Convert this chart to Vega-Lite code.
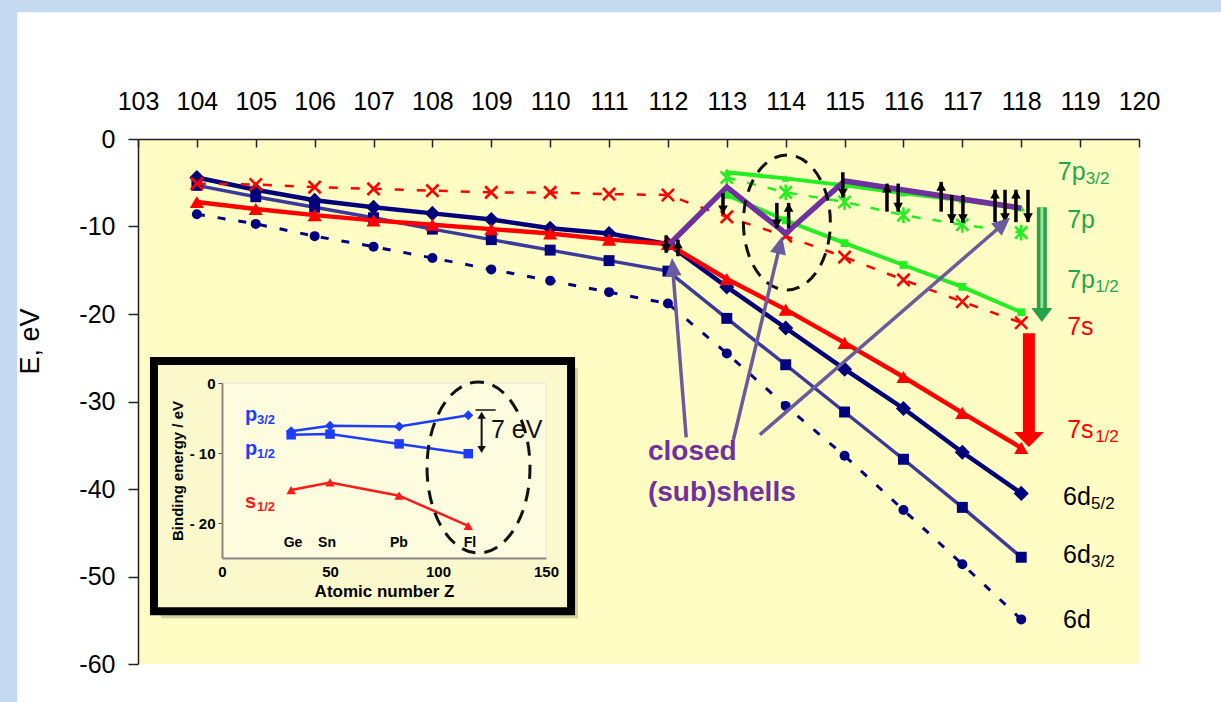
{
  "$schema": "https://vega.github.io/schema/vega-lite/v6.json",
  "width": 1001,
  "height": 525,
  "autosize": {"type": "none"},
  "padding": {"left": 138, "top": 139, "right": 82, "bottom": 38},
  "background": "#c5d9f1",
  "config": {"view": {"stroke": null, "fill": null}, "font": "Liberation Sans", "axis": {"grid": false}},
  "datasets": {
    "main": [
      {"s": "6d", "Z": 104, "E": -8.6}, {"s": "6d", "Z": 105, "E": -9.7}, {"s": "6d", "Z": 106, "E": -11.1}, {"s": "6d", "Z": 107, "E": -12.3}, {"s": "6d", "Z": 108, "E": -13.6}, {"s": "6d", "Z": 109, "E": -14.9}, {"s": "6d", "Z": 110, "E": -16.2}, {"s": "6d", "Z": 111, "E": -17.5}, {"s": "6d", "Z": 112, "E": -18.8}, {"s": "6d", "Z": 113, "E": -24.5}, {"s": "6d", "Z": 114, "E": -30.5}, {"s": "6d", "Z": 115, "E": -36.2}, {"s": "6d", "Z": 116, "E": -42.4}, {"s": "6d", "Z": 117, "E": -48.6}, {"s": "6d", "Z": 118, "E": -54.9},
      {"s": "6d32", "Z": 104, "E": -5.3}, {"s": "6d32", "Z": 105, "E": -6.6}, {"s": "6d32", "Z": 106, "E": -7.8}, {"s": "6d32", "Z": 107, "E": -9.0}, {"s": "6d32", "Z": 108, "E": -10.3}, {"s": "6d32", "Z": 109, "E": -11.5}, {"s": "6d32", "Z": 110, "E": -12.7}, {"s": "6d32", "Z": 111, "E": -13.9}, {"s": "6d32", "Z": 112, "E": -15.1}, {"s": "6d32", "Z": 113, "E": -20.5}, {"s": "6d32", "Z": 114, "E": -25.8}, {"s": "6d32", "Z": 115, "E": -31.2}, {"s": "6d32", "Z": 116, "E": -36.6}, {"s": "6d32", "Z": 117, "E": -42.1}, {"s": "6d32", "Z": 118, "E": -47.8},
      {"s": "6d52", "Z": 104, "E": -4.4}, {"s": "6d52", "Z": 105, "E": -5.8}, {"s": "6d52", "Z": 106, "E": -7.0}, {"s": "6d52", "Z": 107, "E": -7.8}, {"s": "6d52", "Z": 108, "E": -8.5}, {"s": "6d52", "Z": 109, "E": -9.2}, {"s": "6d52", "Z": 110, "E": -10.2}, {"s": "6d52", "Z": 111, "E": -10.8}, {"s": "6d52", "Z": 112, "E": -12.0}, {"s": "6d52", "Z": 113, "E": -16.9}, {"s": "6d52", "Z": 114, "E": -21.6}, {"s": "6d52", "Z": 115, "E": -26.3}, {"s": "6d52", "Z": 116, "E": -30.8}, {"s": "6d52", "Z": 117, "E": -35.8}, {"s": "6d52", "Z": 118, "E": -40.5},
      {"s": "7s", "Z": 104, "E": -5.1}, {"s": "7s", "Z": 105, "E": -5.2}, {"s": "7s", "Z": 106, "E": -5.5}, {"s": "7s", "Z": 107, "E": -5.7}, {"s": "7s", "Z": 108, "E": -5.9}, {"s": "7s", "Z": 109, "E": -6.1}, {"s": "7s", "Z": 110, "E": -6.1}, {"s": "7s", "Z": 111, "E": -6.3}, {"s": "7s", "Z": 112, "E": -6.4}, {"s": "7s", "Z": 113, "E": -8.9}, {"s": "7s", "Z": 114, "E": -11.1}, {"s": "7s", "Z": 115, "E": -13.5}, {"s": "7s", "Z": 116, "E": -16.1}, {"s": "7s", "Z": 117, "E": -18.6}, {"s": "7s", "Z": 118, "E": -21.0},
      {"s": "7s12", "Z": 104, "E": -7.2}, {"s": "7s12", "Z": 105, "E": -8.0}, {"s": "7s12", "Z": 106, "E": -8.7}, {"s": "7s12", "Z": 107, "E": -9.3}, {"s": "7s12", "Z": 108, "E": -9.8}, {"s": "7s12", "Z": 109, "E": -10.3}, {"s": "7s12", "Z": 110, "E": -10.8}, {"s": "7s12", "Z": 111, "E": -11.5}, {"s": "7s12", "Z": 112, "E": -12.0}, {"s": "7s12", "Z": 113, "E": -16.0}, {"s": "7s12", "Z": 114, "E": -19.5}, {"s": "7s12", "Z": 115, "E": -23.3}, {"s": "7s12", "Z": 116, "E": -27.2}, {"s": "7s12", "Z": 117, "E": -31.3}, {"s": "7s12", "Z": 118, "E": -35.3},
      {"s": "7p", "Z": 113, "E": -4.4}, {"s": "7p", "Z": 114, "E": -6.1}, {"s": "7p", "Z": 115, "E": -7.2}, {"s": "7p", "Z": 116, "E": -8.7}, {"s": "7p", "Z": 117, "E": -9.8}, {"s": "7p", "Z": 118, "E": -10.7},
      {"s": "7p12", "Z": 113, "E": -6.4}, {"s": "7p12", "Z": 114, "E": -9.3}, {"s": "7p12", "Z": 115, "E": -11.9}, {"s": "7p12", "Z": 116, "E": -14.4}, {"s": "7p12", "Z": 117, "E": -16.9}, {"s": "7p12", "Z": 118, "E": -19.8},
      {"s": "7p32", "Z": 113, "E": -3.8}, {"s": "7p32", "Z": 114, "E": -4.5}, {"s": "7p32", "Z": 115, "E": -5.3}, {"s": "7p32", "Z": 116, "E": -6.2}, {"s": "7p32", "Z": 117, "E": -7.0}, {"s": "7p32", "Z": 118, "E": -7.9},
      {"s": "closed", "Z": 112, "E": -12.2}, {"s": "closed", "Z": 113, "E": -5.5}, {"s": "closed", "Z": 114, "E": -10.8}, {"s": "closed", "Z": 115, "E": -4.8}, {"s": "closed", "Z": 118, "E": -7.9}
    ],
    "panels": [
      {"p": "page", "Z": 100.95, "E": 14.5, "Z2": 125, "E2": -80},
      {"p": "plot", "Z": 103, "E": 0, "Z2": 120, "E2": -60}
    ],
    "spinrules": [
      {"Z": 111.97, "E": -11.0, "E2": -13.0},
      {"Z": 112.17, "E": -11.5, "E2": -13.4},
      {"Z": 112.935, "E": -6.2, "E2": -8.6},
      {"Z": 113.85, "E": -7.3, "E2": -10.2},
      {"Z": 114.05, "E": -7.3, "E2": -10.2},
      {"Z": 114.97, "E": -3.8, "E2": -6.7},
      {"Z": 115.72, "E": -5.1, "E2": -8.3},
      {"Z": 115.91, "E": -5.1, "E2": -8.3},
      {"Z": 116.64, "E": -4.9, "E2": -8.3},
      {"Z": 116.82, "E": -6.4, "E2": -9.6},
      {"Z": 117.01, "E": -6.4, "E2": -9.6},
      {"Z": 117.555, "E": -5.8, "E2": -9.5},
      {"Z": 117.725, "E": -5.8, "E2": -9.5},
      {"Z": 117.91, "E": -5.8, "E2": -9.5},
      {"Z": 118.115, "E": -5.8, "E2": -9.5}
    ],
    "spinheads": [
      {"Z": 111.97, "E": -13.0, "angle": 180},
      {"Z": 112.17, "E": -11.5, "angle": 0},
      {"Z": 112.935, "E": -8.6, "angle": 180},
      {"Z": 113.85, "E": -10.2, "angle": 180},
      {"Z": 114.05, "E": -7.3, "angle": 0},
      {"Z": 114.97, "E": -6.7, "angle": 180},
      {"Z": 115.72, "E": -5.1, "angle": 0},
      {"Z": 115.91, "E": -8.3, "angle": 180},
      {"Z": 116.64, "E": -4.9, "angle": 0},
      {"Z": 116.82, "E": -9.6, "angle": 180},
      {"Z": 117.01, "E": -9.6, "angle": 180},
      {"Z": 117.555, "E": -5.8, "angle": 0},
      {"Z": 117.725, "E": -9.5, "angle": 180},
      {"Z": 117.91, "E": -5.8, "angle": 0},
      {"Z": 118.115, "E": -9.5, "angle": 180}
    ],
    "ptr": [
      {"Z": 112.31, "E": -34.1, "Z2": 112.08, "E2": -14.7},
      {"Z": 113.11, "E": -34.4, "Z2": 113.9, "E2": -12.2},
      {"Z": 113.56, "E": -33.8, "Z2": 117.68, "E2": -9.8}
    ],
    "ptrhead": [
      {"Z": 112.07, "E": -13.6, "angle": -4.5},
      {"Z": 113.94, "E": -11.1, "angle": 13.5},
      {"Z": 117.81, "E": -9.0, "angle": 49}
    ],
    "greenarrow": [{"Z": 118.35, "E": -7.8, "Z2": 118.35, "E2": -19.5}],
    "greenhead": [{"Z": 118.35, "E": -20.9, "angle": 180}],
    "redarrow": [{"Z": 118.13, "E": -22.2, "Z2": 118.13, "E2": -33.8}],
    "redhead": [{"Z": 118.13, "E": -35.2, "angle": 180}],
    "ellipse": [{"Z": 114.02, "E": -9.54}],
    "labels": [
      {"Z": 118.62, "E": -3.8, "t": "7p", "sub": "3/2", "c": "g"},
      {"Z": 118.78, "E": -9.3, "t": "7p", "sub": "", "c": "g"},
      {"Z": 118.78, "E": -16.1, "t": "7p", "sub": "1/2", "c": "g"},
      {"Z": 118.78, "E": -21.5, "t": "7s", "sub": "", "c": "r"},
      {"Z": 118.78, "E": -33.3, "t": "7s", "sub": "1/2", "c": "r"},
      {"Z": 118.71, "E": -40.9, "t": "6d", "sub": "5/2", "c": "k"},
      {"Z": 118.71, "E": -47.5, "t": "6d", "sub": "3/2", "c": "k"},
      {"Z": 118.71, "E": -55.0, "t": "6d", "sub": "", "c": "k"}
    ],
    "closedtxt": [
      {"Z": 111.66, "E": -35.8, "t": "closed"},
      {"Z": 111.66, "E": -40.5, "t": "(sub)shells"}
    ],
    "inset": [
      {"s": "p32", "Z": 32, "E": -6.9}, {"s": "p32", "Z": 50, "E": -6.1}, {"s": "p32", "Z": 82, "E": -6.2}, {"s": "p32", "Z": 114, "E": -4.6},
      {"s": "p12", "Z": 32, "E": -7.4}, {"s": "p12", "Z": 50, "E": -7.3}, {"s": "p12", "Z": 82, "E": -8.7}, {"s": "p12", "Z": 114, "E": -10.1},
      {"s": "s12", "Z": 32, "E": -15.3}, {"s": "s12", "Z": 50, "E": -14.2}, {"s": "s12", "Z": 82, "E": -16.1}, {"s": "s12", "Z": 114, "E": -20.4}
    ],
    "insetpanels": [
      {"p": "shadow", "Z": -28.3, "E": 2.1, "Z2": 164.8, "E2": -33.6},
      {"p": "box", "Z": -31.5, "E": 3.14, "Z2": 161.6, "E2": -32.6},
      {"p": "plot", "Z": 0, "E": 0, "Z2": 150, "E2": -25}
    ],
    "insetlabels": [
      {"Z": 10.6, "E": -4.6, "t": "p", "sub": "3/2", "c": "b"},
      {"Z": 10.6, "E": -9.4, "t": "p", "sub": "1/2", "c": "b"},
      {"Z": 10.6, "E": -17.0, "t": "s", "sub": "1/2", "c": "r"}
    ],
    "elements": [
      {"Z": 32.9, "E": -22.9, "t": "Ge"}, {"Z": 48.6, "E": -22.9, "t": "Sn"}, {"Z": 81.9, "E": -22.9, "t": "Pb"}, {"Z": 114.8, "E": -22.9, "t": "Fl"}
    ],
    "sevenev": [{"Z": 124.5, "E": -6.7, "t": "7 eV"}],
    "dbl": [{"Z": 120.2, "E": -4.6, "Z2": 120.2, "E2": -9.6}],
    "dblheads": [{"Z": 120.2, "E": -4.1, "angle": 0}, {"Z": 120.2, "E": -10.0, "angle": 180}],
    "cap": [{"Z": 117.4, "E": -3.86, "Z2": 126.7, "E2": -3.86}],
    "insetellipse": [{"Z": 118.75, "E": -12.07}]
  },
  "layer": [
    {
      "data": {"name": "main"},
      "encoding": {
        "x": {"field": "Z", "type": "quantitative", "scale": {"domain": [103, 120], "nice": false, "zero": false},
          "axis": {"orient": "top", "values": [103, 104, 105, 106, 107, 108, 109, 110, 111, 112, 113, 114, 115, 116, 117, 118, 119, 120], "format": "d", "labelFontSize": 25, "labelColor": "#000", "labelPadding": 33, "tickSize": -8, "tickColor": "#222", "tickWidth": 1.5, "domainColor": "#222", "domainWidth": 1.5, "title": null, "zindex": 1, "labelFlush": false, "labelOverlap": false}},
        "y": {"field": "E", "type": "quantitative", "scale": {"domain": [-60, 0], "nice": false, "zero": false},
          "axis": {"orient": "left", "values": [-60, -50, -40, -30, -20, -10, 0], "labelExpr": "toString(datum.value)", "labelFontSize": 25, "labelColor": "#000", "labelPadding": 13, "tickSize": 10, "tickColor": "#222", "tickWidth": 1.5, "domainColor": "#222", "domainWidth": 1.5, "title": "E, eV", "titleFontSize": 27, "titleFontWeight": "normal", "titleColor": "#000", "titleX": -108, "titleY": 202, "titleAngle": -90, "titleAlign": "center", "titleBaseline": "middle", "zindex": 1, "labelFlush": false, "labelOverlap": false}}
      },
      "layer": [
        {"data": {"name": "panels"}, "transform": [{"filter": "datum.p == 'page'"}], "mark": {"type": "rect", "fill": "#ffffff"},
          "encoding": {"x2": {"field": "Z2"}, "y2": {"field": "E2"}}},
        {"data": {"name": "panels"}, "transform": [{"filter": "datum.p == 'plot'"}], "mark": {"type": "rect", "fill": "#fffcc4"},
          "encoding": {"x2": {"field": "Z2"}, "y2": {"field": "E2"}}},
        {"transform": [{"filter": "datum.s == '6d'"}], "mark": {"type": "line", "color": "#000080", "strokeWidth": 3, "strokeDash": [8, 13], "point": {"filled": true, "size": 100, "color": "#000080"}}},
        {"transform": [{"filter": "datum.s == '6d32'"}], "mark": {"type": "line", "color": "#3a3a9c", "strokeWidth": 3.5, "point": {"shape": "square", "filled": true, "size": 120, "color": "#000080"}}},
        {"transform": [{"filter": "datum.s == '6d52'"}], "mark": {"type": "line", "color": "#00007a", "strokeWidth": 4.5, "point": {"shape": "diamond", "filled": true, "size": 230, "color": "#00007a"}}},
        {"transform": [{"filter": "datum.s == '7s'"}], "mark": {"type": "line", "color": "#ff0000", "strokeWidth": 2.5, "strokeDash": [9, 13], "point": {"shape": "M-1,-1L1,1M-1,1L1,-1", "filled": false, "size": 150, "strokeWidth": 2.5, "color": "#ff0000"}}},
        {"transform": [{"filter": "datum.s == '7s12'"}], "mark": {"type": "line", "color": "#ff0000", "strokeWidth": 4.5, "point": {"shape": "triangle-up", "filled": true, "size": 200, "color": "#ff0000"}}},
        {"transform": [{"filter": "datum.s == '7p'"}], "mark": {"type": "line", "color": "#22ee22", "strokeWidth": 2.5, "strokeDash": [9, 12], "point": {"shape": "M-1,-1L1,1M-1,1L1,-1M0,-1.3L0,1.3", "filled": false, "size": 150, "strokeWidth": 2.5, "color": "#22ee22"}}},
        {"transform": [{"filter": "datum.s == '7p12'"}], "mark": {"type": "line", "color": "#22ee22", "strokeWidth": 4, "point": {"shape": "square", "filled": true, "size": 60, "color": "#22ee22"}}},
        {"transform": [{"filter": "datum.s == '7p32'"}], "mark": {"type": "line", "color": "#22ee22", "strokeWidth": 4, "point": {"shape": "triangle-up", "filled": true, "size": 60, "color": "#22ee22"}}},
        {"transform": [{"filter": "datum.s == 'closed'"}], "mark": {"type": "line", "color": "#7030a0", "strokeWidth": 5.5, "strokeJoin": "miter"}},
        {"data": {"name": "spinrules"}, "mark": {"type": "rule", "color": "#000", "strokeWidth": 3.5},
          "encoding": {"y2": {"field": "E2"}}},
        {"data": {"name": "spinheads"}, "mark": {"type": "point", "shape": "M0,0L-0.6,1.1L0.6,1.1Z", "size": 256, "filled": true, "color": "#000", "opacity": 1},
          "encoding": {"angle": {"field": "angle", "type": "quantitative", "scale": null}}},
        {"data": {"name": "ellipse"}, "mark": {"type": "point", "shape": "M-0.644,0A0.644,1,0,1,0,0.644,0A0.644,1,0,1,0,-0.644,0Z", "size": 18225, "filled": false, "stroke": "#111", "strokeWidth": 3, "strokeDash": [13, 9], "opacity": 1}},
        {"data": {"name": "ptr"}, "mark": {"type": "rule", "color": "#6a5a9e", "strokeWidth": 3.5},
          "encoding": {"x2": {"field": "Z2"}, "y2": {"field": "E2"}}},
        {"data": {"name": "ptrhead"}, "mark": {"type": "point", "shape": "M0,0L-0.45,1L0.45,1Z", "size": 1296, "filled": true, "color": "#6a5a9e", "opacity": 1},
          "encoding": {"angle": {"field": "angle", "type": "quantitative", "scale": null}}},
        {"data": {"name": "greenarrow"}, "mark": {"type": "rule", "color": "#27a24c", "strokeWidth": 10},
          "encoding": {"x2": {"field": "Z2"}, "y2": {"field": "E2"}}},
        {"data": {"name": "greenarrow"}, "mark": {"type": "rule", "color": "#9ddf95", "strokeWidth": 3},
          "encoding": {"x2": {"field": "Z2"}, "y2": {"field": "E2"}}},
        {"data": {"name": "greenhead"}, "mark": {"type": "point", "shape": "M0,0L-0.75,1L0.75,1Z", "size": 784, "filled": true, "color": "#27a24c", "opacity": 1},
          "encoding": {"angle": {"field": "angle", "type": "quantitative", "scale": null}}},
        {"data": {"name": "redarrow"}, "mark": {"type": "rule", "color": "#ff0000", "strokeWidth": 12},
          "encoding": {"x2": {"field": "Z2"}, "y2": {"field": "E2"}}},
        {"data": {"name": "redhead"}, "mark": {"type": "point", "shape": "M0,0L-1,1L1,1Z", "size": 900, "filled": true, "color": "#ff0000", "opacity": 1},
          "encoding": {"angle": {"field": "angle", "type": "quantitative", "scale": null}}},
        {"data": {"name": "labels"}, "mark": {"type": "text", "fontSize": 25, "align": "left", "baseline": "middle"},
          "encoding": {"text": {"field": "t"}, "color": {"field": "c", "type": "nominal", "scale": {"domain": ["g", "r", "k"], "range": ["#1da84a", "#ff0000", "#000000"]}, "legend": null}}},
        {"data": {"name": "labels"}, "mark": {"type": "text", "fontSize": 17, "align": "left", "baseline": "middle", "dx": 28, "dy": 7},
          "encoding": {"text": {"field": "sub"}, "color": {"field": "c", "type": "nominal", "scale": {"domain": ["g", "r", "k"], "range": ["#1da84a", "#ff0000", "#000000"]}, "legend": null}}},
        {"data": {"name": "closedtxt"}, "mark": {"type": "text", "fontSize": 28, "fontWeight": "bold", "color": "#7030a0", "align": "left", "baseline": "middle"},
          "encoding": {"text": {"field": "t"}}}
      ]
    },
    {
      "data": {"name": "inset"},
      "encoding": {
        "x": {"field": "Z", "type": "quantitative", "scale": {"domain": [0, 150], "range": [84, 408], "nice": false, "zero": false},
          "axis": {"orient": "bottom", "offset": -106, "values": [0, 50, 100, 150], "labelFontSize": 15, "labelFontWeight": "bold", "labelColor": "#000", "labelPadding": 6, "ticks": false, "domainColor": "#888", "domainWidth": 2, "title": "Atomic number Z", "titleFontSize": 17, "titleFontWeight": "bold", "titleColor": "#000", "titlePadding": 4, "zindex": 1, "labelFlush": false, "labelOverlap": false}},
        "y": {"field": "E", "type": "quantitative", "scale": {"domain": [-25, 0], "range": [419, 244], "nice": false, "zero": false},
          "axis": {"orient": "left", "offset": -84, "values": [0, -10, -20], "labelExpr": "datum.value == 0 ? '0' : '- ' + toString(-datum.value)", "labelFontSize": 15, "labelFontWeight": "bold", "labelColor": "#000", "labelPadding": 3, "tickSize": 4, "tickColor": "#555", "domainColor": "#888", "domainWidth": 2, "title": "Binding energy / eV", "titleFontSize": 15, "titleFontWeight": "bold", "titleColor": "#000", "titlePadding": 4, "zindex": 1, "labelFlush": false, "labelOverlap": false}}
      },
      "layer": [
        {"data": {"name": "insetpanels"}, "transform": [{"filter": "datum.p == 'shadow'"}], "mark": {"type": "rect", "fill": "#6e6a3a", "opacity": 0.3},
          "encoding": {"x2": {"field": "Z2"}, "y2": {"field": "E2"}}},
        {"data": {"name": "insetpanels"}, "transform": [{"filter": "datum.p == 'box'"}], "mark": {"type": "rect", "fill": "#fbf9cc", "stroke": "#000", "strokeWidth": 8},
          "encoding": {"x2": {"field": "Z2"}, "y2": {"field": "E2"}}},
        {"data": {"name": "insetpanels"}, "transform": [{"filter": "datum.p == 'plot'"}], "mark": {"type": "rect", "fill": "#fdfcdf", "stroke": "#e4e4e4", "strokeWidth": 1},
          "encoding": {"x2": {"field": "Z2"}, "y2": {"field": "E2"}}},
        {"transform": [{"filter": "datum.s == 'p32'"}], "mark": {"type": "line", "color": "#1e3cff", "strokeWidth": 2.5, "point": {"shape": "diamond", "filled": true, "size": 100, "color": "#1e3cff"}}},
        {"transform": [{"filter": "datum.s == 'p12'"}], "mark": {"type": "line", "color": "#1e3cff", "strokeWidth": 2.5, "point": {"shape": "square", "filled": true, "size": 90, "color": "#1e3cff"}}},
        {"transform": [{"filter": "datum.s == 's12'"}], "mark": {"type": "line", "color": "#ff1a1a", "strokeWidth": 2.5, "point": {"shape": "triangle-up", "filled": true, "size": 90, "color": "#ff1a1a"}}},
        {"data": {"name": "insetlabels"}, "mark": {"type": "text", "fontSize": 20, "fontWeight": "bold", "align": "left", "baseline": "middle"},
          "encoding": {"text": {"field": "t"}, "color": {"field": "c", "type": "nominal", "scale": {"domain": ["b", "r"], "range": ["#1e3cff", "#ff1a1a"]}, "legend": null}}},
        {"data": {"name": "insetlabels"}, "mark": {"type": "text", "fontSize": 13, "fontWeight": "bold", "align": "left", "baseline": "middle", "dx": 12, "dy": 5},
          "encoding": {"text": {"field": "sub"}, "color": {"field": "c", "type": "nominal", "scale": {"domain": ["b", "r"], "range": ["#1e3cff", "#ff1a1a"]}, "legend": null}}},
        {"data": {"name": "elements"}, "mark": {"type": "text", "fontSize": 14, "fontWeight": "bold", "color": "#000", "align": "center", "baseline": "middle"},
          "encoding": {"text": {"field": "t"}}},
        {"data": {"name": "insetellipse"}, "mark": {"type": "point", "shape": "M-0.602,0A0.602,1,0,1,0,0.602,0A0.602,1,0,1,0,-0.602,0Z", "size": 29241, "filled": false, "stroke": "#111", "strokeWidth": 3, "strokeDash": [14, 9], "opacity": 1}},
        {"data": {"name": "cap"}, "mark": {"type": "rule", "color": "#111", "strokeWidth": 1.5},
          "encoding": {"x2": {"field": "Z2"}, "y2": {"field": "E2"}}},
        {"data": {"name": "dbl"}, "mark": {"type": "rule", "color": "#111", "strokeWidth": 2},
          "encoding": {"x2": {"field": "Z2"}, "y2": {"field": "E2"}}},
        {"data": {"name": "dblheads"}, "mark": {"type": "point", "shape": "M0,0L-0.6,1L0.6,1Z", "size": 196, "filled": true, "color": "#111", "opacity": 1},
          "encoding": {"angle": {"field": "angle", "type": "quantitative", "scale": null}}},
        {"data": {"name": "sevenev"}, "mark": {"type": "text", "fontSize": 25, "color": "#111", "align": "left", "baseline": "middle"},
          "encoding": {"text": {"field": "t"}}}
      ]
    }
  ],
  "resolve": {"scale": {"x": "independent", "y": "independent", "color": "independent"}}
}
